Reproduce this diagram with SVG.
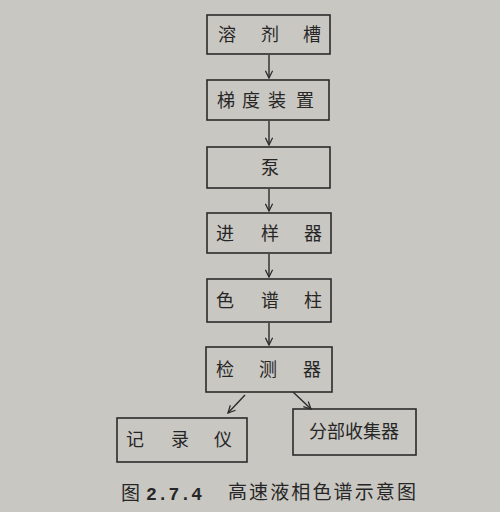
<svg xmlns="http://www.w3.org/2000/svg" width="500" height="512" viewBox="0 0 500 512">
<style>
.box{fill:none;stroke:#2b2b2b;stroke-width:1.6}
.t{font-family:"Noto Sans CJK SC","Noto Sans CJK JP",sans-serif;font-size:18px;fill:#262626;text-anchor:middle}
.c{stroke:#2b2b2b;stroke-width:1.4;fill:none}
.cap{font-family:"Noto Sans CJK SC",sans-serif;font-size:19px;fill:#262626}
</style>
<defs>
<marker id="ah" viewBox="0 0 10 10" refX="9" refY="5" markerWidth="9" markerHeight="9" markerUnits="userSpaceOnUse" orient="auto">
<path d="M1,1 L9,5 L1,9" fill="none" stroke="#2b2b2b" stroke-width="1.4"/>
</marker>
</defs>
<rect width="500" height="512" fill="#c9c7c2"/>
<g id="n1"><rect class="box" x="207" y="15" width="123" height="39"/><text class="t" x="227" y="41">溶</text><text class="t" x="270" y="41">剂</text><text class="t" x="312" y="41">槽</text></g>
<g id="n2"><rect class="box" x="207" y="80" width="122" height="40"/><text class="t" x="226" y="107">梯</text><text class="t" x="251" y="107">度</text><text class="t" x="277" y="107">装</text><text class="t" x="305" y="107">置</text></g>
<g id="n3"><rect class="box" x="207" y="147" width="123" height="41"/><text class="t" x="270" y="174">泵</text></g>
<g id="n4"><rect class="box" x="207" y="213" width="124" height="40"/><text class="t" x="225" y="240">进</text><text class="t" x="270" y="240">样</text><text class="t" x="313" y="240">器</text></g>
<g id="n5"><rect class="box" x="207" y="279" width="124" height="43"/><text class="t" x="225" y="307">色</text><text class="t" x="270" y="307">谱</text><text class="t" x="313" y="307">柱</text></g>
<g id="n6"><rect class="box" x="206" y="347" width="126" height="45"/><text class="t" x="225" y="376">检</text><text class="t" x="268" y="376">测</text><text class="t" x="312" y="376">器</text></g>
<g id="n7"><rect class="box" x="117" y="418" width="130" height="44"/><text class="t" x="135" y="446">记</text><text class="t" x="180" y="446">录</text><text class="t" x="223" y="446">仪</text></g>
<g id="n8"><rect class="box" x="293" y="409" width="123" height="46"/><text class="t" x="354" y="438">分部收集器</text></g>
<g id="connectors">
<line class="c" x1="269" y1="55" x2="269" y2="78" marker-end="url(#ah)"/>
<line class="c" x1="269" y1="121" x2="269" y2="145" marker-end="url(#ah)"/>
<line class="c" x1="269" y1="189" x2="269" y2="211" marker-end="url(#ah)"/>
<line class="c" x1="269" y1="254" x2="269" y2="277" marker-end="url(#ah)"/>
<line class="c" x1="269" y1="323" x2="269" y2="345" marker-end="url(#ah)"/>
<line class="c" x1="245" y1="395" x2="228" y2="413" marker-end="url(#ah)"/>
<line class="c" x1="293" y1="392" x2="311" y2="409" marker-end="url(#ah)"/>
</g>
<text class="cap" x="121" y="500">图<tspan x="146" font-family="Liberation Mono,monospace" font-weight="bold" font-size="18" textLength="56">2.7.4</tspan></text>
<text class="cap" x="228" y="499" textLength="188">高速液相色谱示意图</text>
</svg>
